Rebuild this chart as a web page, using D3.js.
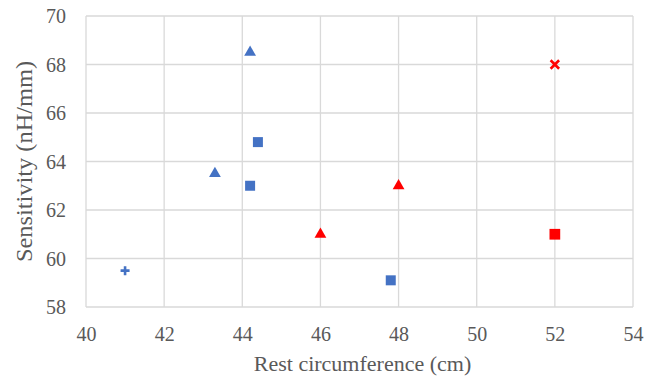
<!DOCTYPE html>
<html>
<head>
<meta charset="utf-8">
<script src="https://cdn.jsdelivr.net/npm/d3@7"></script>
<style>
  body { margin: 0; background: #fff; }
  svg { display: block; }
</style>
</head>
<body>
<script>
// series: [circumference, sensitivity]
const blueSquares = [[44.4, 64.8], [44.2, 63.0], [47.8, 59.1]];
const blueTriangles = [[44.2, 68.5], [43.3, 63.5]];
const bluePlus = [[41.0, 59.5]];
const redTriangles = [[46.0, 61.0], [48.0, 63.0]];
const redSquares = [[52.0, 61.0]];
const redCross = [[52.0, 68.0]];

const xTicks = [40, 42, 44, 46, 48, 50, 52, 54];
const yTicks = [58, 60, 62, 64, 66, 68, 70];

const width = 670, height = 379;
const margin = {left: 86, right: 37, top: 16, bottom: 72};
const serif = "'Liberation Serif', 'Times New Roman', Times, serif";

const x = d3.scaleLinear().domain([40, 54]).range([margin.left, width - margin.right]);
const y = d3.scaleLinear().domain([58, 70]).range([height - margin.bottom, margin.top]);

const svg = d3.select("body").append("svg")
    .attr("width", width)
    .attr("height", height);

// grid
svg.append("g")
    .attr("stroke", "#d9d9d9")
    .attr("stroke-width", 1.3)
    .call(g => g.selectAll(".vx").data(xTicks).join("line")
        .attr("class", "vx")
        .attr("x1", d => x(d)).attr("x2", d => x(d))
        .attr("y1", y(58)).attr("y2", y(70)))
    .call(g => g.selectAll(".hy").data(yTicks).join("line")
        .attr("class", "hy")
        .attr("y1", d => y(d)).attr("y2", d => y(d))
        .attr("x1", x(40)).attr("x2", x(54)));

// axes (labels only)
const xAxis = svg.append("g")
    .attr("transform", `translate(0,${y(58)})`)
    .call(d3.axisBottom(x).tickValues(xTicks).tickSize(0).tickPadding(20));
const yAxis = svg.append("g")
    .attr("transform", `translate(${x(40)},0)`)
    .call(d3.axisLeft(y).tickValues(yTicks).tickSize(0).tickPadding(20));

[xAxis, yAxis].forEach(a => {
  a.select(".domain").remove();
  a.style("font-family", serif).style("font-size", "20px");
  a.selectAll("text")
      .style("font-family", serif)
      .style("font-size", "20px")
      .style("fill", "#595959");
});
yAxis.selectAll("text").attr("dy", "0.34em");

svg.append("text")
    .attr("x", (x(40) + x(54)) / 2 + 3)
    .attr("y", 371)
    .attr("text-anchor", "middle")
    .style("font-family", serif)
    .style("font-size", "22px")
    .style("fill", "#595959")
    .text("Rest circumference (cm)");

svg.append("text")
    .attr("transform", `translate(32,${(y(58) + y(70)) / 2}) rotate(-90) scale(1.06,1)`)
    .attr("text-anchor", "middle")
    .style("font-family", serif)
    .style("font-size", "23px")
    .style("fill", "#595959")
    .text("Sensitivity (nH/mm)");

const blue = "#4472c4", red = "#ff0000";

function markers(data, type, color, size) {
  svg.append("g")
      .selectAll("path")
      .data(data)
      .join("path")
      .attr("transform", d => `translate(${x(d[0])},${y(d[1])})`)
      .attr("d", d3.symbol().type(type).size(size))
      .attr("fill", color);
}

function crossMarks(data, color, r, rot) {
  svg.append("g")
      .selectAll("path")
      .data(data)
      .join("path")
      .attr("transform", d => `translate(${x(d[0])},${y(d[1])}) rotate(${rot})`)
      .attr("d", `M${-r},0H${r}M0,${-r}V${r}`)
      .attr("stroke", color)
      .attr("stroke-width", 2.6)
      .attr("fill", "none");
}

markers(blueSquares, d3.symbolSquare, blue, 100);
markers(blueTriangles, d3.symbolTriangle, blue, 60);
markers(redTriangles, d3.symbolTriangle, red, 60);
markers(redSquares, d3.symbolSquare, red, 115);
crossMarks(bluePlus, blue, 4.5, 0);
crossMarks(redCross, red, 6, 45);
</script>
</body>
</html>
